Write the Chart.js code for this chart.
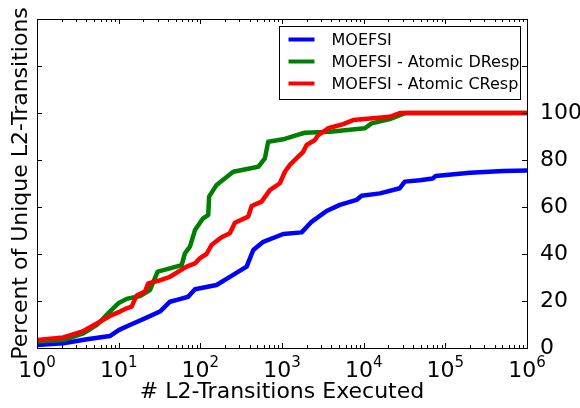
<!DOCTYPE html>
<html>
<head>
<meta charset="utf-8">
<title>Percent of Unique L2-Transitions</title>
<script src="https://cdn.jsdelivr.net/npm/chart.js@4.4.1/dist/chart.umd.min.js"></script>
<style>
	html, body { margin: 0; padding: 0; background: #fff; }
	#wrap { width: 580px; height: 408px; }
</style>
</head>
<body>
<div id="wrap"><canvas id="l2-chart" width="580" height="408"></canvas></div>
<script>
'use strict';

// Series values (x = transitions executed, y = percent)
var moefsiX = [ 1, 2.1, 4.1, 7.8, 10, 13.7, 22, 32, 42.5, 56, 71, 86, 158, 230, 369, 445, 590, 1035, 1740, 2300, 3515, 5110, 8190, 9420, 15850, 27700, 31900, 48700, 70000, 76000, 200000, 510000, 1000000 ];
var moefsiY = [ 1.3, 2, 3.7, 5.1, 7.6, 9.8, 12.9, 15.5, 19.7, 20.8, 21.8, 25, 26.8, 30.3, 34.6, 41.7, 45.2, 48.5, 49.2, 53.7, 58.3, 60.9, 63, 64.8, 65.8, 68, 70.8, 71.4, 72.1, 73.2, 74.6, 75.3, 75.5 ];

var dRespX = [ 1, 2.1, 3.7, 5.4, 7.8, 9.9, 12.5, 18.2, 24.2, 30, 42.5, 59, 64.7, 74.6, 86, 108, 125, 128, 158, 253, 512, 617, 678, 1035, 1510, 1905, 3855, 10350, 12500, 20900, 30400, 33000, 1000000 ];
var dRespY = [ 2.8, 3.4, 6.2, 9.8, 15.5, 19, 20.9, 22.1, 24.7, 32.5, 33.9, 35.3, 40.3, 43.1, 50.2, 55.2, 56.6, 64.4, 69.4, 75, 77.1, 80.7, 87.8, 88.8, 90.6, 91.6, 92, 93.5, 95.6, 97.4, 99.6, 100, 100 ];

var cRespX = [ 1, 2.1, 3.7, 5.9, 8.2, 10.4, 12.5, 14.4, 16.6, 21, 23, 30.5, 42.5, 68, 86, 99, 119, 137, 182, 230, 265, 386, 425, 562, 711, 942, 1085, 1250, 1580, 1820, 2000, 2530, 2775, 3680, 5610, 7450, 20900, 27700, 1000000 ];
var cRespY = [ 3.4, 4.5, 7.2, 11.2, 14, 15.5, 16.9, 17.6, 22.3, 24, 27.5, 28.6, 30.3, 34.6, 36, 38.2, 40, 43.8, 47.1, 48.8, 53.3, 55.9, 60.4, 62.3, 67.2, 70.1, 75, 77.9, 81.4, 83.5, 86.4, 88.5, 90.6, 93.5, 95.3, 97, 98.4, 100, 100 ];

var seriesLabels = [ 'MOEFSI', 'MOEFSI - Atomic DResp', 'MOEFSI - Atomic CResp' ];

// Tick values and labels (x labels are base + exponent)
var xTickValues = [ 1, 10, 100, 1000, 10000, 100000, 1000000 ];
var xTickBase = '10';
var xTickExponents = [ '0', '1', '2', '3', '4', '5', '6' ];
var yTickValues = [ 0, 20, 40, 60, 80, 100, 120, 140 ];
var yTickLabels = [ '0', '20', '40', '60', '80', '100', '', '' ];

var FONT = 'DejaVu Sans';

function toPoints( xs, ys ) {
	return xs.map( function( x, i ) {
		return { x: x, y: ys[ i ] };
	} );
}

// Frame and inward tick marks on all four sides
var frameTicks = {
	id: 'frameTicks',
	afterDatasetsDraw: function( chart ) {
		var ctx = chart.ctx;
		var ca = chart.chartArea;
		var xs = chart.scales.x;
		var ys = chart.scales.y;
		var major = 5, minor = 3;

		ctx.save();
		ctx.strokeStyle = '#000';
		ctx.lineWidth = 1;
		ctx.beginPath();

		// x: decades and minor 2..9
		for ( var d = 0; d <= 6; d++ ) {
			for ( var m = 1; m <= 9; m++ ) {
				var v = m * Math.pow( 10, d );
				if ( v > 1000000 ) break;
				var px = Math.round( xs.getPixelForValue( v ) ) + 0.5;
				var len = m === 1 ? major : minor;
				ctx.moveTo( px, ca.bottom );
				ctx.lineTo( px, ca.bottom - len );
				ctx.moveTo( px, ca.top );
				ctx.lineTo( px, ca.top + len );
			}
		}

		// y: every 20
		yTickValues.forEach( function( v ) {
			var py = Math.round( ys.getPixelForValue( v ) ) + 0.5;
			ctx.moveTo( ca.left, py );
			ctx.lineTo( ca.left + major, py );
			ctx.moveTo( ca.right, py );
			ctx.lineTo( ca.right - major, py );
		} );
		ctx.stroke();

		ctx.strokeRect( Math.round( ca.left ) + 0.5, Math.round( ca.top ) + 0.5,
			Math.round( ca.right - ca.left ), Math.round( ca.bottom - ca.top ) );
		ctx.restore();
	}
};

// x tick labels as 10 with a raised exponent
var powerLabels = {
	id: 'powerLabels',
	afterDraw: function( chart ) {
		var ctx = chart.ctx;
		var xs = chart.scales.x;
		var baseY = chart.chartArea.bottom + 29;

		ctx.save();
		ctx.fillStyle = '#000';
		ctx.textBaseline = 'alphabetic';
		ctx.textAlign = 'left';
		xTickValues.forEach( function( v, i ) {
			ctx.font = '22px "' + FONT + '"';
			var wBase = ctx.measureText( xTickBase ).width;
			ctx.font = '15px "' + FONT + '"';
			var wExp = ctx.measureText( xTickExponents[ i ] ).width;
			var left = xs.getPixelForValue( v ) - ( wBase + wExp ) / 2;

			ctx.font = '22px "' + FONT + '"';
			ctx.fillText( xTickBase, left, baseY );
			ctx.font = '15px "' + FONT + '"';
			ctx.fillText( xTickExponents[ i ], left + wBase, baseY - 10.5 );
		} );
		ctx.restore();
	}
};

// Boxed legend in the upper right of the plot
var boxLegend = {
	id: 'boxLegend',
	afterDraw: function( chart ) {
		var ctx = chart.ctx;
		var ca = chart.chartArea;
		var boxW = 241, boxH = 73;
		var bx = Math.round( ca.right - 7 - boxW ) + 0.5;
		var by = Math.round( ca.top + 7 ) + 0.5;

		ctx.save();
		ctx.fillStyle = '#fff';
		ctx.fillRect( bx, by, boxW, boxH );
		ctx.strokeStyle = '#000';
		ctx.lineWidth = 1;
		ctx.strokeRect( bx, by, boxW, boxH );

		ctx.font = '16px "' + FONT + '"';
		ctx.textBaseline = 'middle';
		ctx.textAlign = 'left';
		chart.data.datasets.forEach( function( ds, i ) {
			var rowY = by + 13 + i * 22;
			ctx.strokeStyle = ds.borderColor;
			ctx.lineWidth = 4;
			ctx.beginPath();
			ctx.moveTo( bx + 9, rowY );
			ctx.lineTo( bx + 35, rowY );
			ctx.stroke();
			ctx.fillStyle = '#000';
			ctx.fillText( ds.label, bx + 52, rowY + 1 );
		} );
		ctx.restore();
	}
};

var ctx = document.getElementById( 'l2-chart' ).getContext( '2d' );

new Chart( ctx, {
	type: 'line',
	data: {
		datasets: [
			{
				label: seriesLabels[ 0 ],
				data: toPoints( moefsiX, moefsiY ),
				borderColor: '#0000ff',
				order: 3
			},
			{
				label: seriesLabels[ 1 ],
				data: toPoints( dRespX, dRespY ),
				borderColor: '#008000',
				order: 2
			},
			{
				label: seriesLabels[ 2 ],
				data: toPoints( cRespX, cRespY ),
				borderColor: '#ff0000',
				order: 1
			}
		]
	},
	options: {
		responsive: false,
		animation: false,
		devicePixelRatio: 1,
		layout: { padding: { top: 19, left: 0, right: 0, bottom: 0 } },
		elements: {
			point: { radius: 0 },
			line: { borderWidth: 4.5, tension: 0, borderJoinStyle: 'round', borderCapStyle: 'butt', fill: false }
		},
		plugins: {
			legend: { display: false },
			tooltip: { enabled: false }
		},
		scales: {
			x: {
				type: 'logarithmic',
				position: 'bottom',
				min: 1,
				max: 1000000,
				afterBuildTicks: function( scale ) {
					scale.ticks = xTickValues.map( function( v ) { return { value: v }; } );
				},
				afterFit: function( scale ) {
					scale.height = 60;
				},
				ticks: { display: false },
				grid: { display: false },
				border: { display: false },
				title: {
					display: true,
					text: '# L2-Transitions Executed',
					color: '#000',
					font: { family: FONT, size: 22 },
					padding: { top: 0, bottom: 3 }
				}
			},
			y: {
				type: 'linear',
				position: 'right',
				min: 0,
				max: 140,
				afterBuildTicks: function( scale ) {
					scale.ticks = yTickValues.map( function( v ) { return { value: v }; } );
				},
				afterFit: function( scale ) {
					scale.width = 53;
				},
				ticks: {
					padding: 5,
					color: '#000',
					font: { family: FONT, size: 22 },
					callback: function( value ) {
						var i = yTickValues.indexOf( value );
						return i >= 0 ? yTickLabels[ i ] : '';
					}
				},
				grid: { display: false },
				border: { display: false }
			},
			yLeft: {
				type: 'linear',
				position: 'left',
				min: 0,
				max: 140,
				afterFit: function( scale ) {
					scale.width = 37;
				},
				ticks: { display: false },
				grid: { display: false },
				border: { display: false },
				title: {
					display: true,
					text: 'Percent of Unique L2-Transitions',
					color: '#000',
					font: { family: FONT, size: 22 },
					padding: { top: 8, bottom: 0 }
				}
			}
		}
	},
	plugins: [ frameTicks, powerLabels, boxLegend ]
} );
</script>
</body>
</html>
